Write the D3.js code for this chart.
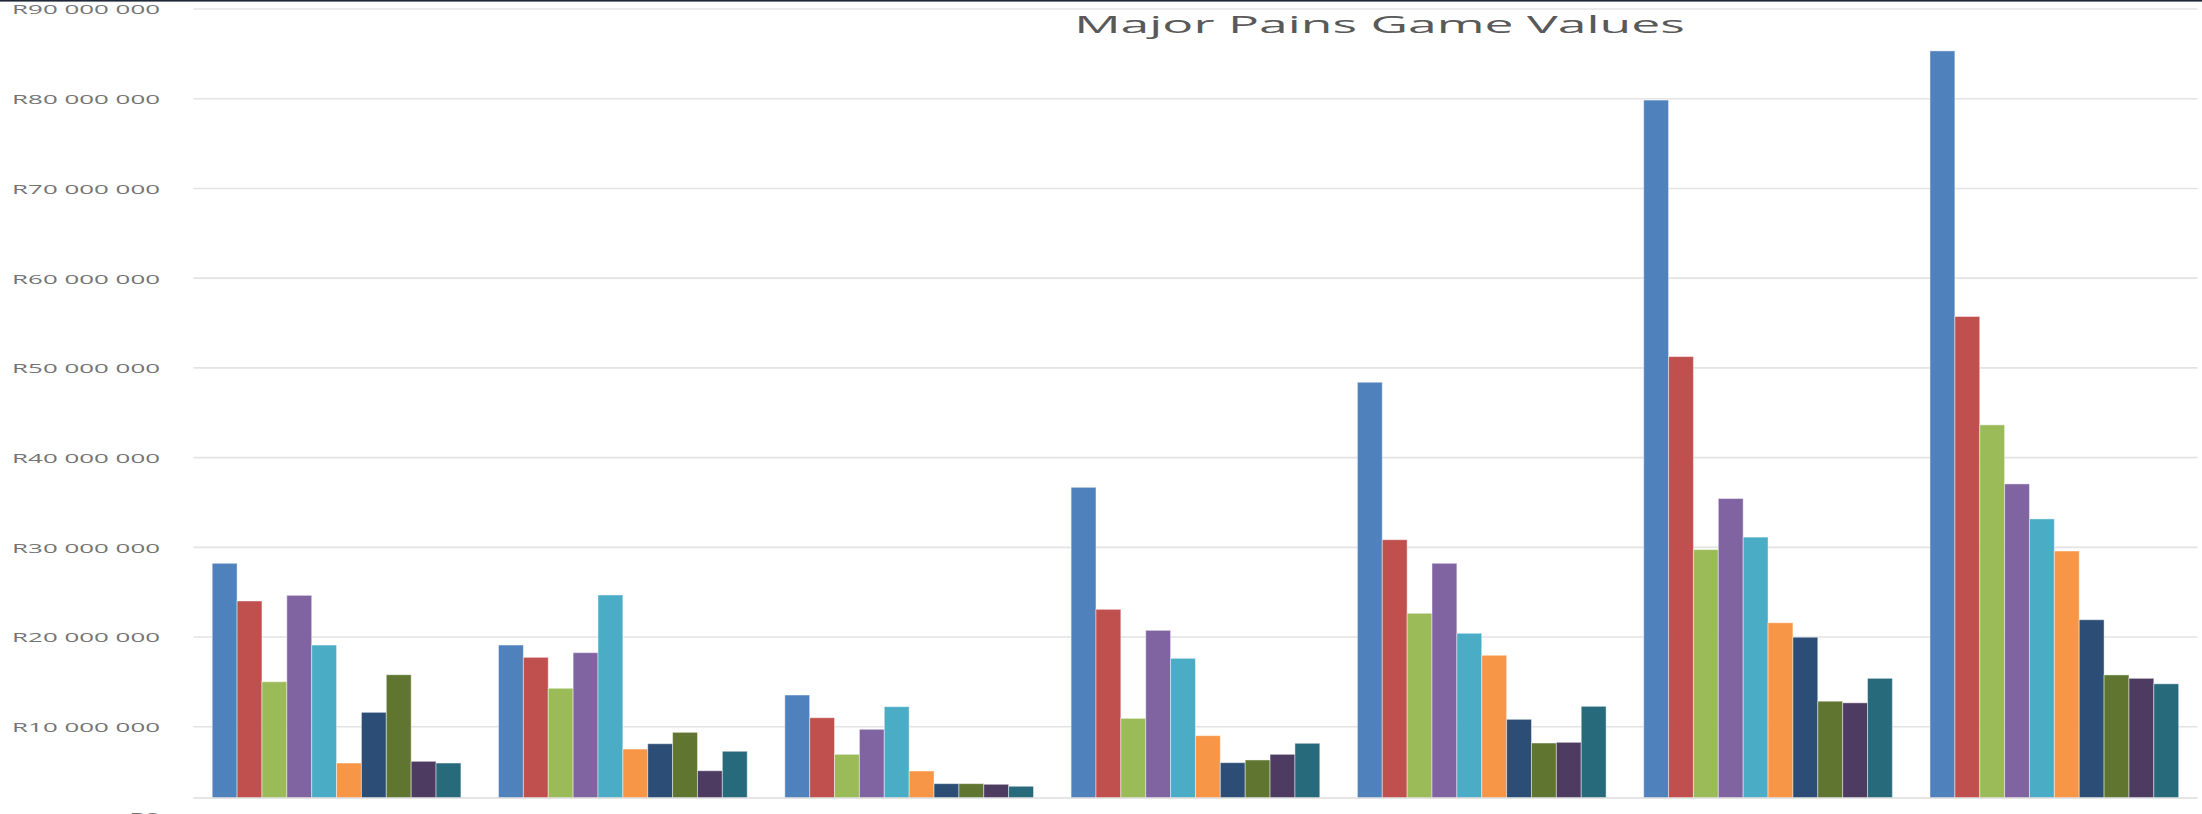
<!DOCTYPE html>
<html>
<head>
<meta charset="utf-8">
<script src="https://cdn.jsdelivr.net/npm/d3@7/dist/d3.min.js"></script>
<style>
  html, body { margin: 0; padding: 0; background: #ffffff; overflow: hidden; }
  svg { display: block; }
</style>
</head>
<body>
<svg id="chart" width="2202" height="814"></svg>
<script>
// Game groups along the x axis
const categories = ["Game 1", "Game 2", "Game 3", "Game 4", "Game 5", "Game 6", "Game 7"];

// Series names and colours
const seriesNames = ["Series 1", "Series 2", "Series 3", "Series 4", "Series 5",
                     "Series 6", "Series 7", "Series 8", "Series 9", "Series 10"];
const seriesColors = ["#4F81BD", "#C0504D", "#9BBB59", "#8064A2", "#4BACC6",
                      "#F79646", "#2C4D75", "#5F7530", "#4D3B62", "#276A7C"];

// Values in Rand, one array per series (7 games each)
const series1 = [28220000, 19110000, 13540000, 36690000, 48400000, 79850000, 85330000];
const series2 = [24020000, 17740000, 11010000, 23090000, 30850000, 51260000, 55730000];
const series3 = [15020000, 14290000,  6930000, 10940000, 22650000, 29750000, 43650000];
const series4 = [24650000, 18260000,  9720000, 20750000, 28220000, 35440000, 37070000];
const series5 = [19110000, 24690000, 12240000, 17630000, 20420000, 31140000, 33170000];
const series6 = [ 5960000,  7520000,  5070000,  9010000, 17970000, 21590000, 29590000];
const series7 = [11610000,  8110000,  3660000,  6000000, 10830000, 19980000, 21930000];
const series8 = [15800000,  9380000,  3660000,  6300000,  8190000, 12850000, 15780000];
const series9 = [ 6150000,  5100000,  3590000,  6930000,  8270000, 12670000, 15400000];
const series10 = [5960000,  7270000,  3370000,  8160000, 12280000, 15400000, 14790000];

// Y axis ticks
const yTicks = [0, 10000000, 20000000, 30000000, 40000000, 50000000,
                60000000, 70000000, 80000000, 90000000];

const chartTitle = "Major Pains Game Values";

const seriesValues = [series1, series2, series3, series4, series5,
                      series6, series7, series8, series9, series10];

const svg = d3.select("#chart");

// Layout
const plotLeft = 193.4, plotRight = 2197.5;
const plotBottom = 798;            // visible floor of the plot area
const yZero = 816.5, yTop = 9;

const x0 = d3.scaleBand()
  .domain(categories)
  .range([plotLeft, plotRight])
  .paddingInner(0.1313)
  .paddingOuter(0.0657);

const x1 = d3.scaleBand()
  .domain(seriesNames)
  .range([0, x0.bandwidth()])
  .padding(0);

const y = d3.scaleLinear()
  .domain([0, 90000000])
  .range([yZero, yTop]);

const color = d3.scaleOrdinal().domain(seriesNames).range(seriesColors);

// Dark rule along the top edge
svg.append("rect")
  .attr("x", 0).attr("y", 0)
  .attr("width", 2202).attr("height", 1.6)
  .attr("fill", "#1d2735");

// Horizontal gridlines
svg.append("g")
  .selectAll("line")
  .data(yTicks.filter(d => d > 0))
  .join("line")
  .attr("x1", plotLeft).attr("x2", plotRight)
  .attr("y1", d => y(d)).attr("y2", d => y(d))
  .attr("stroke", "#e3e3e3")
  .attr("stroke-width", 1.6);

// Bars
const groups = svg.append("g")
  .selectAll("g")
  .data(categories.map((c, i) => ({ cat: c, i })))
  .join("g")
  .attr("transform", d => `translate(${x0(d.cat)},0)`);

groups.selectAll("rect")
  .data(d => seriesNames.map((s, k) => ({ name: s, value: seriesValues[k][d.i] })))
  .join("rect")
  .attr("x", d => x1(d.name))
  .attr("y", d => y(d.value))
  .attr("width", x1.bandwidth())
  .attr("height", d => plotBottom - y(d.value))
  .attr("fill", d => color(d.name))
  .attr("stroke", "rgba(255,255,255,0.45)")
  .attr("stroke-width", 1);

// Category axis line
svg.append("line")
  .attr("x1", plotLeft).attr("x2", plotRight)
  .attr("y1", plotBottom).attr("y2", plotBottom)
  .attr("stroke", "#dcdcdc")
  .attr("stroke-width", 1.6);

// Value axis labels (wide, horizontally stretched lettering)
const fmt = v => "R" + d3.format(",")(v).replace(/,/g, " ");
const labelFont = "'Open Sans', 'Liberation Sans', sans-serif";

const yLabels = svg.append("g")
  .selectAll("text")
  .data(yTicks)
  .join("text")
  .text(d => fmt(d))
  .attr("text-anchor", "end")
  .attr("dominant-baseline", "central")
  .attr("font-family", labelFont)
  .attr("font-size", 12.5)
  .attr("fill", "#747474");

const refLabel = yLabels.filter(d => d === 90000000).node();
const labelStretch = 148 / refLabel.getComputedTextLength();
yLabels.attr("transform", d => `translate(160,${y(d) + 0.5}) scale(${labelStretch},1)`);

// Title
const title = svg.append("text")
  .text(chartTitle)
  .attr("text-anchor", "middle")
  .attr("font-family", labelFont)
  .attr("font-size", 23.5)
  .attr("fill", "#595959");
const titleStretch = 611 / title.node().getComputedTextLength();
title.attr("transform", `translate(1379.5,33) scale(${titleStretch},1)`);
</script>
</body>
</html>
